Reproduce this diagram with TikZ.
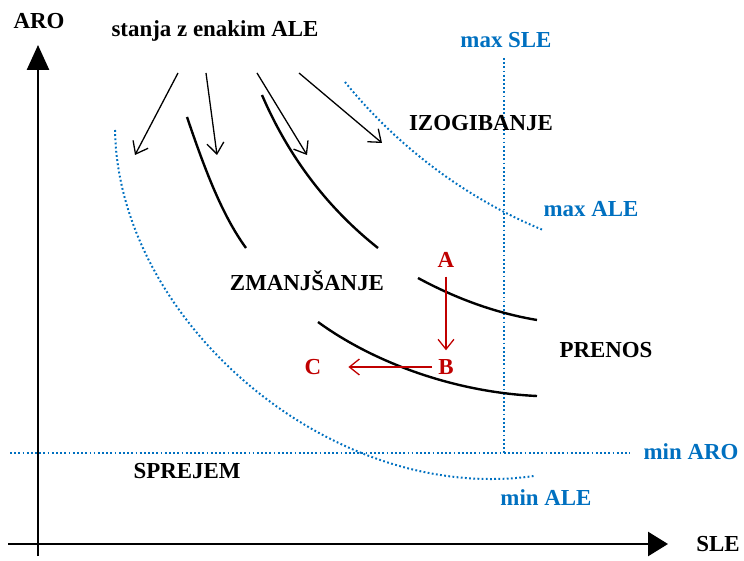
\documentclass[tikz,border=0pt]{standalone}
\usepackage{fontspec}
\setmainfont{Liberation Serif}
\usepackage{xcolor}
\usetikzlibrary{arrows}
\usetikzlibrary{arrows.meta}
\usetikzlibrary{calc}

\definecolor{lineblue}{RGB}{0,112,192}
\definecolor{darkred}{RGB}{192,0,0}

\tikzset{
  lbl/.style={font=\fontsize{23}{26}\selectfont\bfseries, inner sep=1pt},
  bluelbl/.style={lbl, text=lineblue},
  redlbl/.style={lbl, text=darkred},
  limit/.style={lineblue, line width=2pt, dash pattern=on 1.8pt off 2.4pt},
  isoq/.style={black, line width=2.4pt},
  thinarr/.style={black, line width=1.3pt, -{Straight Barb[length=11pt,width=17pt]}},
  redarr/.style={darkred, line width=1.3pt, -{Straight Barb[length=10pt,width=16pt]}},
}

\begin{document}
\begin{tikzpicture}[x=1bp,y=-1bp]
\useasboundingbox (0,0) rectangle (744,561);
%% axes
   \draw [black, line width=2.6pt, -{Triangle[length=25pt,width=22pt]}] (38,556) -- (38,45);
   \draw [black, line width=2.6pt, -{Triangle[length=20pt,width=24pt]}] (8,544) -- (668,544);
   \node [lbl] (aro) at (39,21) {ARO};
   \node [lbl] (sle) at (718,544) {SLE};
%% limits
   \draw [limit] (504,58) -- (504,453);
   \draw [limit] (10,453) -- (630,453);
   \draw [limit] (345,82) .. controls (400,150) and (470,200) .. (543,230);
   \draw [limit] (115,130) .. controls (118,320) and (330,505) .. (534,476);
   \node [bluelbl] (maxsle) at (506,40) {max SLE};
   \node [bluelbl] (maxale) at (591,209) {max ALE};
   \node [bluelbl] (minaro) at (691,452) {min ARO};
   \node [bluelbl] (minale) at (546,498) {min ALE};
%% curves of equal ALE
   \draw [isoq] (187,117) .. controls (205,170) and (222,215) .. (246,248);
   \draw [isoq] (262,95) .. controls (290,160) and (330,210) .. (378,248);
   \draw [isoq] (418,278) .. controls (455,298) and (495,313) .. (537,320);
   \draw [isoq] (318,322) .. controls (370,360) and (450,392) .. (537,396);
%% areas
   \node [lbl] (izog) at (481,123) {IZOGIBANJE};
   \node [lbl] (zman) at (307,281) {ZMANJŠANJE};
   \node [lbl] (pren) at (606,350) {PRENOS};
   \node [lbl] (sprej) at (187,471) {SPREJEM};
%% states
   \node [lbl] (stanja) at (215,31) {stanja z enakim ALE};
\foreach \i/\sx/\ex/\ey in {1/178/135/155, 2/206/217/155, 3/257/307/155, 4/299/382/143}
{
   \coordinate (s\i) at (\sx,73);
   \coordinate (t\i) at (\ex,\ey);
   \draw [thinarr] (s\i) -- (t\i);
}
%% movement A -> B -> C
   \node [redlbl] (A) at (446,260) {A};
   \node [redlbl] (B) at (446,367) {B};
   \node [redlbl] (C) at (313,367) {C};
   \draw [redarr, shorten <=8pt, shorten >=8pt] (A) -- (B);
   \draw [redarr, shorten <=5pt, shorten >=26pt] (B) -- (C);
\end{tikzpicture}
\end{document}
